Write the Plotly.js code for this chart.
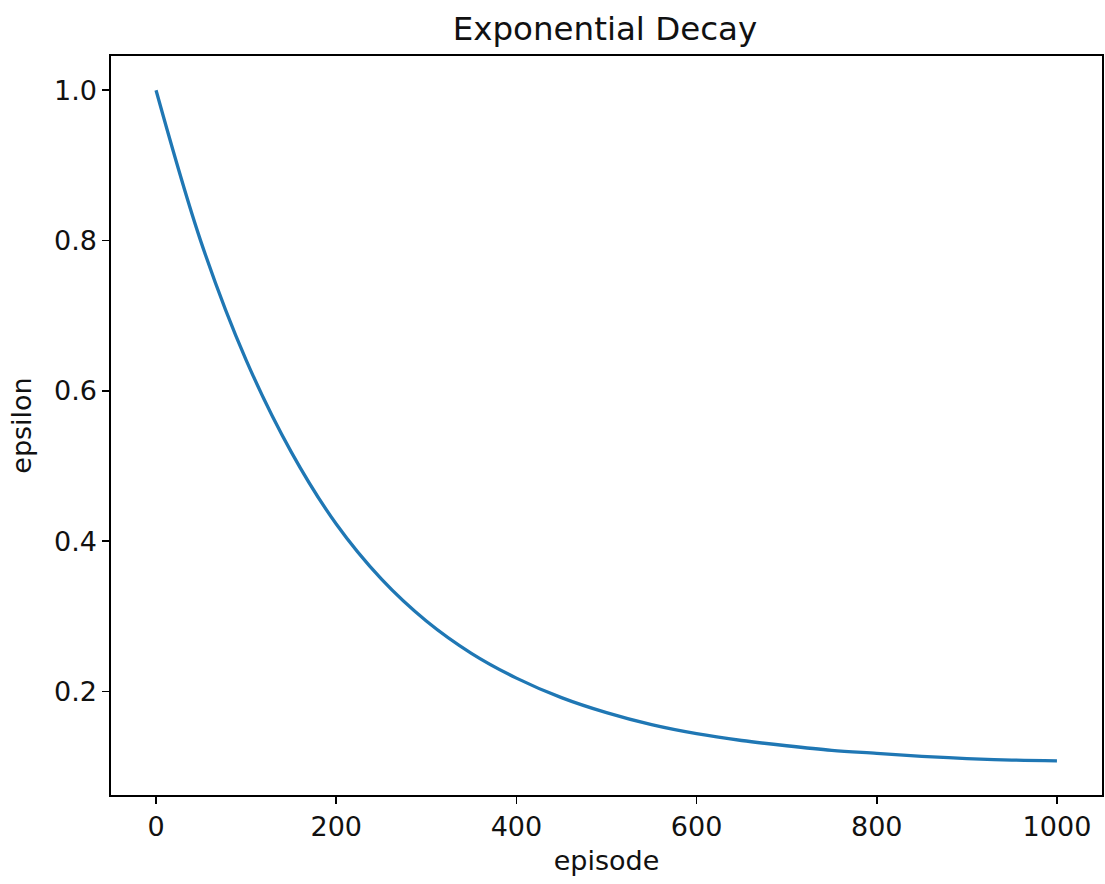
<!DOCTYPE html>
<html>
<head>
<meta charset="utf-8">
<script src="https://cdn.plot.ly/plotly-3.0.1.min.js"></script>
<style>html,body{margin:0;padding:0;background:#fff;}#chart{width:1105px;height:884px;}</style>
</head>
<body>
<div id="chart"></div>
<script>
const episodes = [0, 50, 100, 150, 200, 250, 300, 350, 400, 450, 500, 550, 600, 650, 700, 750, 800, 850, 900, 950, 1000];
const epsilon = [1.000, 0.798, 0.641, 0.519, 0.423, 0.350, 0.294, 0.251, 0.218, 0.192, 0.172, 0.156, 0.144, 0.135, 0.128, 0.122, 0.118, 0.114, 0.111, 0.109, 0.108];
const xTicks = [0, 200, 400, 600, 800, 1000];
const yTicks = [0.2, 0.4, 0.6, 0.8, 1.0];
const yTickText = ["0.2", "0.4", "0.6", "0.8", "1.0"];

const font = "DejaVu Sans, sans-serif";
const trace = {
  x: episodes, y: epsilon, type: "scatter", mode: "lines",
  line: {color: "#1f77b4", width: 3.3, shape: "spline", smoothing: 1},
  hoverinfo: "skip"
};
const axisCommon = {
  showline: true, linecolor: "#000", linewidth: 1.6, mirror: true,
  ticks: "outside", ticklen: 7, tickwidth: 1.6, tickcolor: "#000",
  showgrid: false, zeroline: false,
  tickfont: {family: font, size: 27, color: "#111"}
};
const layout = {
  width: 1105, height: 884,
  margin: {l: 111, r: 3, t: 56, b: 89},
  paper_bgcolor: "#fff", plot_bgcolor: "#fff",
  showlegend: false,
  title: {text: "Exponential Decay", font: {family: font, size: 32.5, color: "#111"}, x: 0.5475, xanchor: "center", y: 0.968, yanchor: "middle"},
  xaxis: Object.assign({}, axisCommon, {
    range: [-50, 1050], tickvals: xTicks, ticktext: xTicks.map(String),
    title: {text: "episode", font: {family: font, size: 27, color: "#111"}, standoff: 10}
  }),
  yaxis: Object.assign({}, axisCommon, {
    range: [0.0625, 1.0456], tickvals: yTicks, ticktext: yTickText,
    title: {text: "epsilon", font: {family: font, size: 27, color: "#111"}, standoff: 14}
  })
};
Plotly.newPlot("chart", [trace], layout, {displayModeBar: false, staticPlot: true});
</script>
</body>
</html>
